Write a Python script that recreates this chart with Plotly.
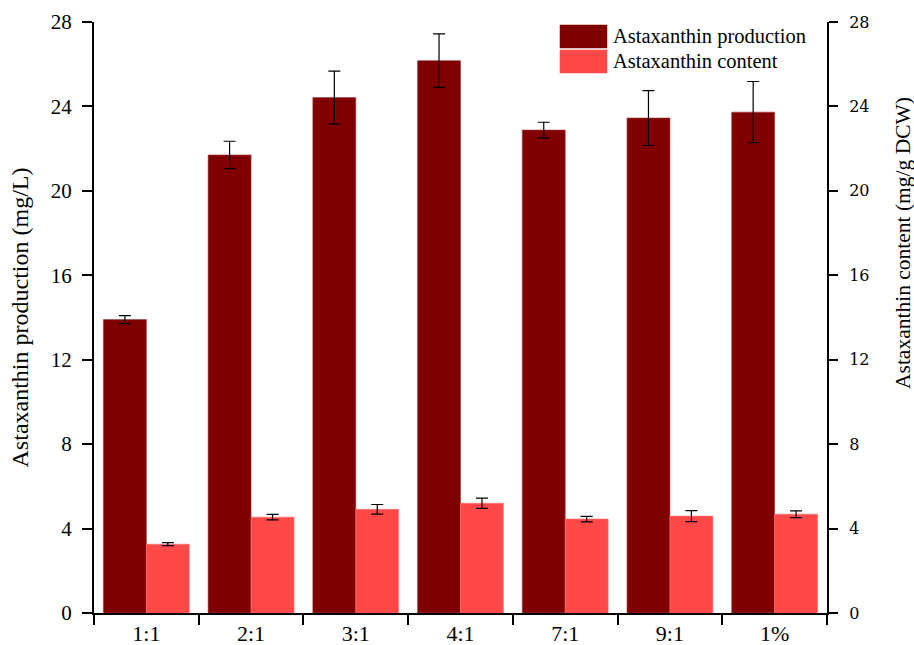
import plotly.graph_objects as go

# Culture conditions
categories = ["1:1", "2:1", "3:1", "4:1", "7:1", "9:1", "1%"]

# Astaxanthin production (mg/L) and standard deviation
production = [13.9, 21.7, 24.42, 26.17, 22.88, 23.45, 23.73]
production_sd = [0.19, 0.65, 1.25, 1.27, 0.37, 1.3, 1.45]

# Astaxanthin content (mg/g DCW) and standard deviation
content = [3.26, 4.54, 4.91, 5.2, 4.45, 4.59, 4.68]
content_sd = [0.07, 0.13, 0.23, 0.24, 0.13, 0.26, 0.16]

ticks = [0, 4, 8, 12, 16, 20, 24, 28]

dark = "#800000"
light = "#FF4848"
serif = "Liberation Serif, Times New Roman, serif"

fig = go.Figure()
fig.add_trace(go.Bar(
    x=categories, y=production, name="Astaxanthin production",
    marker=dict(color=dark, line=dict(color="#9a3a3a", width=0.6)),
    offsetgroup="prod", yaxis="y",
    error_y=dict(type="data", array=production_sd, color="black",
                 thickness=1.2, width=6),
))
fig.add_trace(go.Bar(
    x=categories, y=content, name="Astaxanthin content",
    marker=dict(color=light, line=dict(color="#ff7070", width=0.6)),
    offsetgroup="cont", yaxis="y2",
    error_y=dict(type="data", array=content_sd, color="black",
                 thickness=1.2, width=6),
))

# Legend boxes with labels
legend_items = [("Astaxanthin production", dark), ("Astaxanthin content", light)]
for i, (label, col) in enumerate(legend_items):
    y0 = 25 + i * 25
    fig.add_shape(type="rect", xref="paper", yref="paper",
                  x0=(560 - 94) / 733, x1=(607 - 94) / 733,
                  y0=1 - (y0 + 23 - 22) / 591, y1=1 - (y0 - 22) / 591,
                  fillcolor=col, line=dict(color=col, width=0.5), layer="above")
    fig.add_annotation(xref="paper", yref="paper",
                       x=(611 - 94) / 733, y=1 - (y0 + 11.5 - 22) / 591,
                       text=label, showarrow=False, xanchor="left", yanchor="middle",
                       font=dict(family=serif, size=20.5, color="black"))

# Right-hand axis title, set a little above the axis midpoint
fig.add_annotation(xref="paper", yref="paper",
                   x=(903 - 94) / 733, y=1 - (243 - 22) / 591,
                   text="Astaxanthin content (mg/g DCW)", textangle=-90,
                   showarrow=False, xanchor="center", yanchor="middle",
                   font=dict(family=serif, size=21.5, color="black"))

fig.update_layout(
    width=914, height=645,
    margin=dict(l=94, r=87, t=22, b=32),
    paper_bgcolor="white", plot_bgcolor="white",
    barmode="group", bargap=0.18, bargroupgap=0,
    showlegend=False,
    font=dict(family=serif, size=20, color="black"),
    xaxis=dict(
        type="category", range=[-0.5, 6.5], automargin=False,
        tickson="boundaries", ticks="outside", ticklen=10, tickwidth=2,
        tickcolor="black", showline=True, linecolor="black", linewidth=2,
        showgrid=False, tickfont=dict(family=serif, size=22),
    ),
    yaxis=dict(
        range=[0, 28], tickvals=ticks, ticks="outside", ticklen=10, tickwidth=2,
        tickcolor="black", showline=True, linecolor="black", linewidth=2,
        showgrid=False, zeroline=False, automargin=False, ticklabelstandoff=6,
        tickfont=dict(family=serif, size=21),
        title=dict(text="Astaxanthin production (mg/L)",
                   font=dict(family=serif, size=24)),
    ),
    yaxis2=dict(
        range=[0, 28], tickvals=ticks, overlaying="y", side="right",
        ticks="outside", ticklen=9, tickwidth=2, tickcolor="black",
        showline=True, linecolor="black", linewidth=2,
        showgrid=False, zeroline=False, automargin=False, ticklabelstandoff=8,
        tickfont=dict(family="DejaVu Serif, serif", size=16),
    ),
)

fig.write_html("out.html")
